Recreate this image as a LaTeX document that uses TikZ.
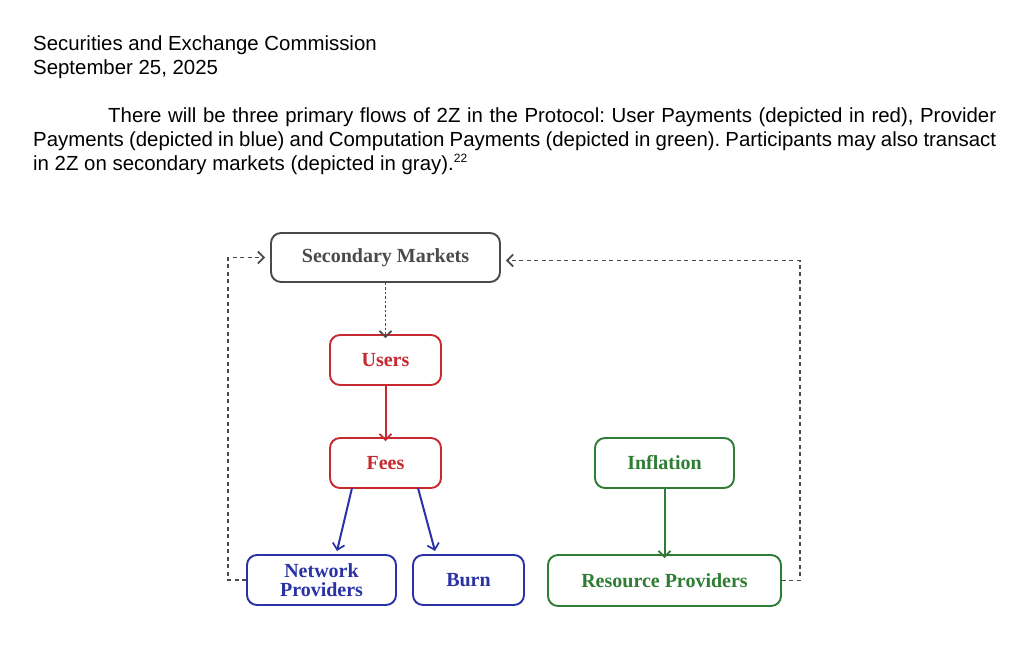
\documentclass[tikz,border=0pt]{standalone}
\usepackage{fontspec}
\setmainfont{Liberation Sans}
\newfontfamily\boxfont{Liberation Serif}
\usetikzlibrary{arrows.meta}
\definecolor{cred}{HTML}{C62A2F}
\definecolor{cblue}{HTML}{2A32A6}
\definecolor{cgreen}{HTML}{2F7D34}
\definecolor{cgray}{HTML}{4A4A4A}
\frenchspacing
\begin{document}
\begin{tikzpicture}[x=1pt,y=-1pt,
  txt/.style={anchor=base west, inner sep=0pt, font=\fontsize{20.4}{24}\selectfont},
  box/.style={draw, line width=1.9pt, rounded corners=10pt, inner sep=0pt, align=center,
    font=\boxfont\bfseries\fontsize{20}{21}\selectfont},
  redbox/.style={box, draw=cred, text=cred},
  bluebox/.style={box, draw=cblue, text=cblue},
  greenbox/.style={box, draw=cgreen, text=cgreen},
  graybox/.style={box, draw=cgray, text=cgray},
  tip/.style={-{Straight Barb[length=6pt,width=12pt,line width=1.7pt]}},
  flow/.style={tip, line width=2pt},
  loop/.style={tip, line width=1.9pt, cgray, dash pattern=on 4pt off 3.5pt},
  dots/.style={tip, line width=1.9pt, cgray, dash pattern=on 2.5pt off 2pt}
]
\fill[white] (0,0) rectangle (1032,671);
\useasboundingbox (0,0) rectangle (1032,671);

\node[txt] (h1) at (33,51) {Securities and Exchange Commission};
\node[txt] (h2) at (33,75) {September 25, 2025};
\node[txt] (p1) at (108,123) {\makebox[888pt][s]{There will be three primary flows of 2Z in the Protocol: User Payments (depicted in red), Provider}};
\node[txt] (p2) at (33,147) {\makebox[963pt][s]{Payments (depicted in blue) and Computation Payments (depicted in green). Participants may also transact}};
\node[txt] (p3) at (33,171) {in 2Z on secondary markets (depicted in gray).\raisebox{8pt}{\fontsize{12}{13}\selectfont 22}};

\node[graybox, minimum width=229pt, minimum height=49pt] (sm) at (385.5,257.5) {Secondary Markets};
\node[redbox, minimum width=111pt, minimum height=50pt] (us) at (385.5,360) {Users};
\node[redbox, minimum width=111pt, minimum height=50pt] (fe) at (385.5,463) {Fees};
\node[bluebox, minimum width=149pt, minimum height=50pt] (np) at (321.5,580) {Network\\[-2pt]Providers};
\node[bluebox, minimum width=111pt, minimum height=50pt] (bu) at (468.5,580) {Burn};
\node[greenbox, minimum width=139pt, minimum height=50pt] (in) at (664.5,463) {Inflation};
\node[greenbox, minimum width=233pt, minimum height=51pt] (rp) at (664.5,580.5) {Resource Providers};

\coordinate (a1) at (352,488);
\coordinate (a2) at (337,551);
\coordinate (b1) at (418,488);
\coordinate (b2) at (435,551);

\draw[dots] (sm.south) -- ([yshift=-4pt]us.north);
\draw[flow, cred] (us.south) -- ([yshift=-4pt]fe.north);
\draw[flow, cblue] (a1) -- (a2);
\draw[flow, cblue] (b1) -- (b2);
\draw[flow, cgreen] (in.south) -- ([yshift=-4pt]rp.north);
\draw[loop] (np.west) -- ++(-18,0) |- ([xshift=-5pt,yshift=0pt]sm.west);
\draw[loop] (rp.east) -- (800,580.5) |- ([xshift=5pt,yshift=-3pt]sm.east);
\end{tikzpicture}
\end{document}
